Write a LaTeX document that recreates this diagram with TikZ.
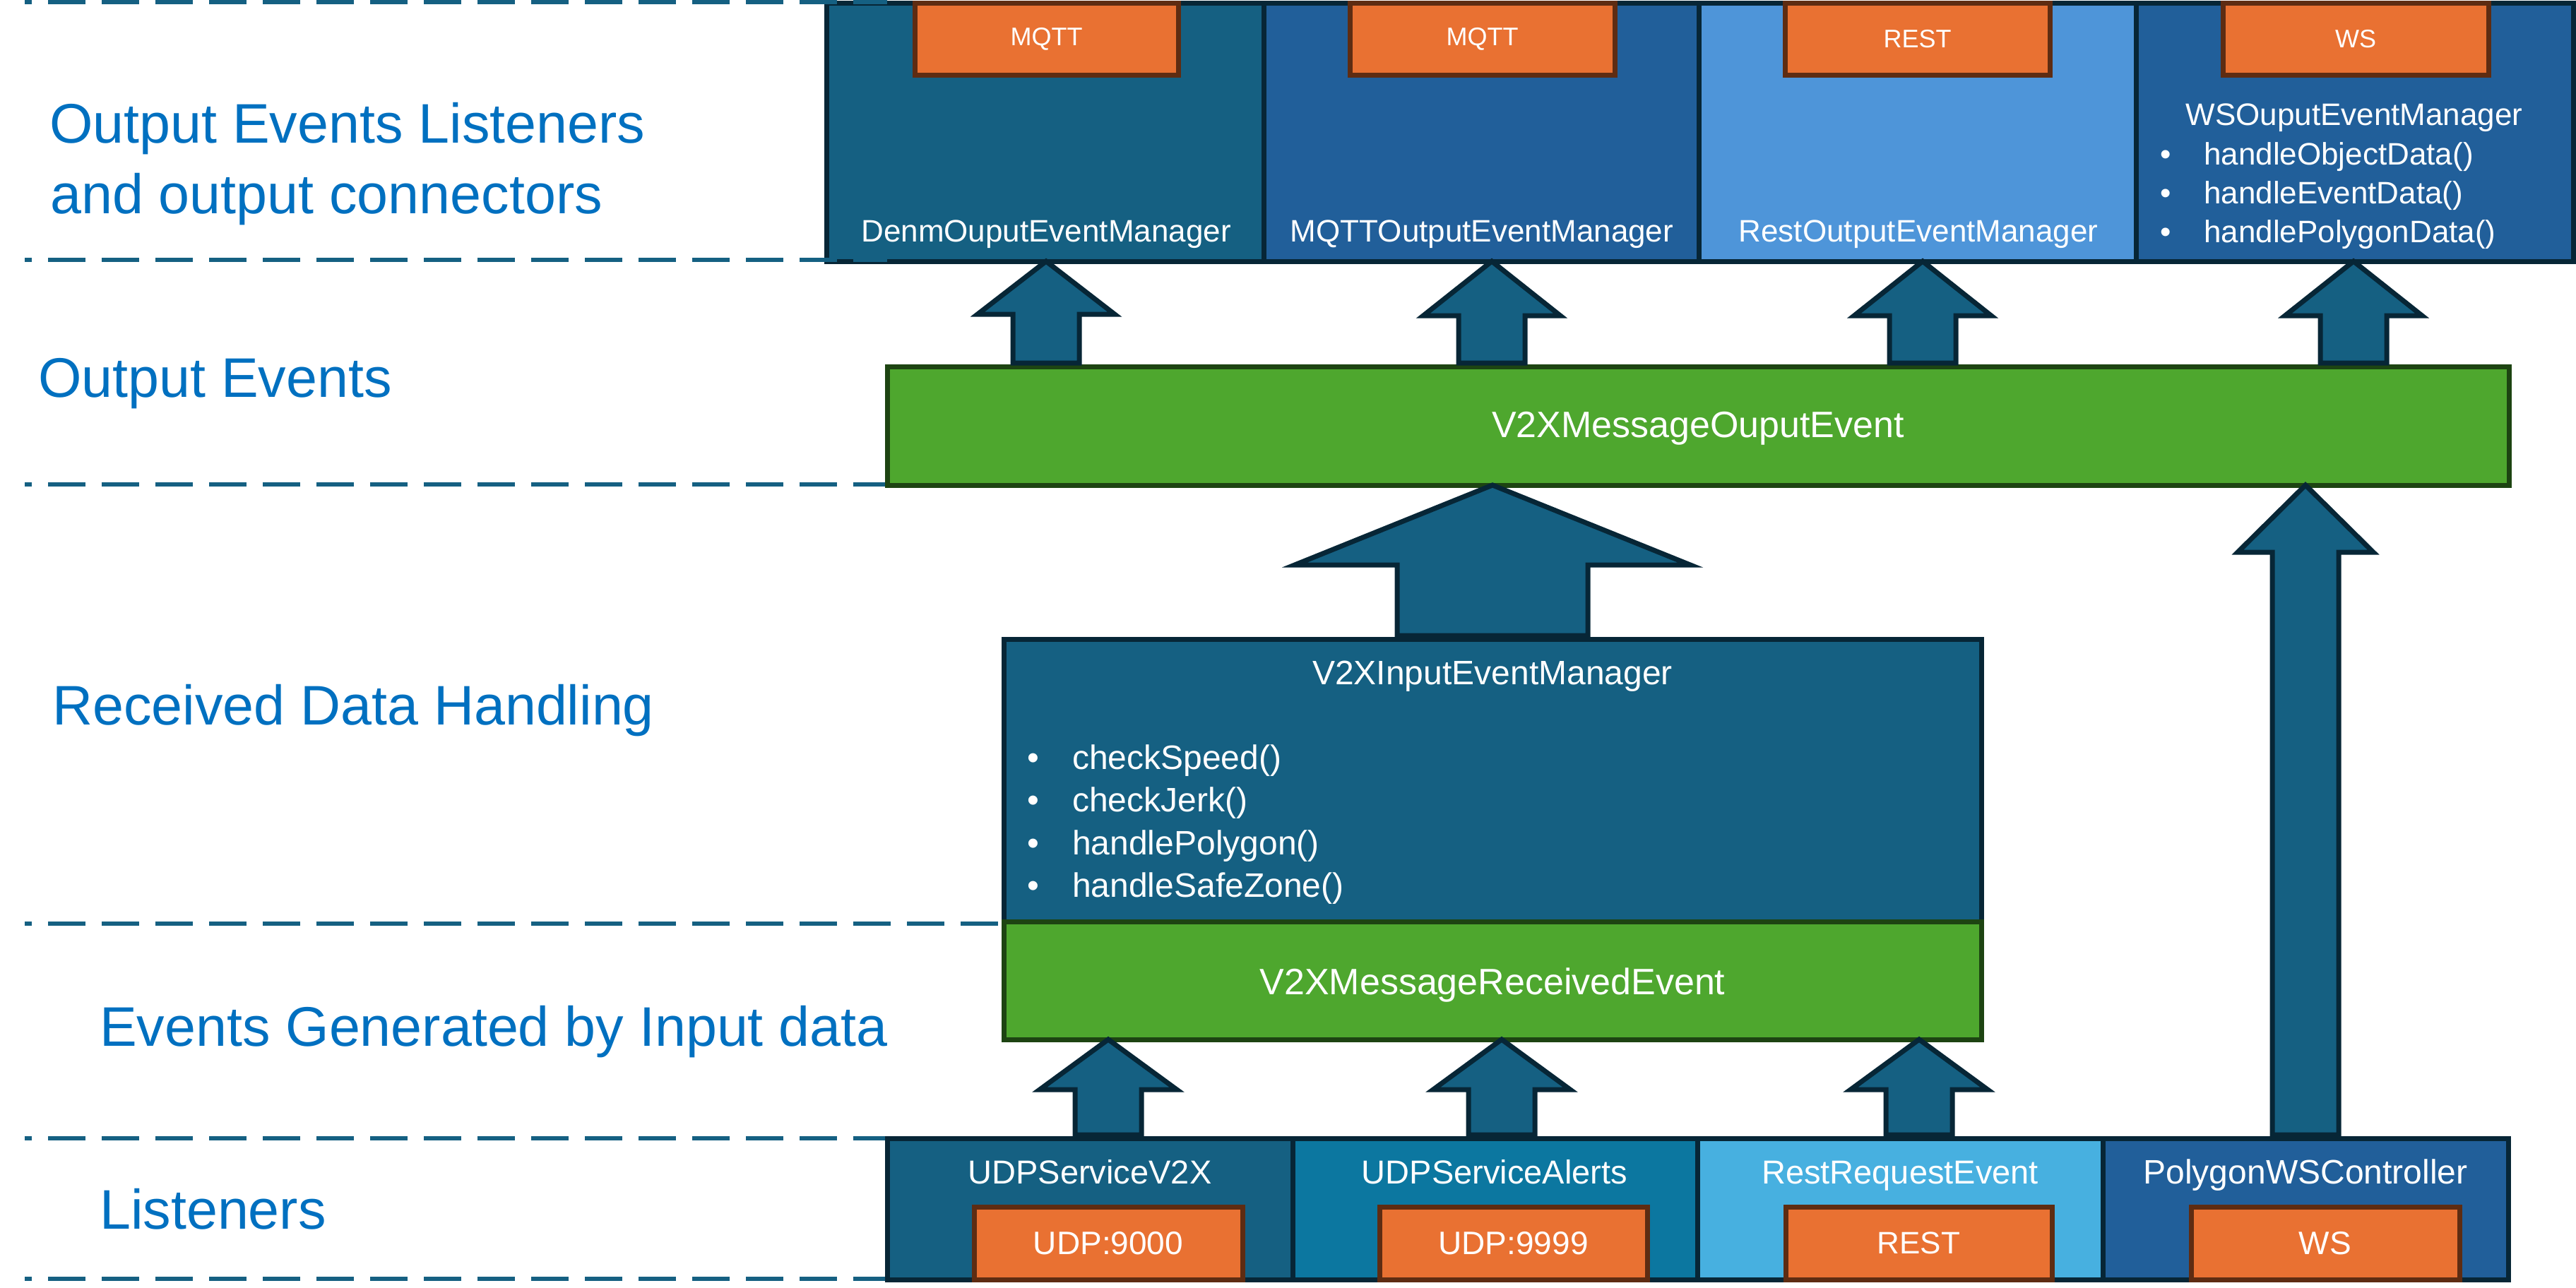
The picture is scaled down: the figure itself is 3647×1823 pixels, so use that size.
\documentclass[tikz,border=0pt]{standalone}
\usepackage{fontspec}
\setmainfont{Liberation Sans}
\usetikzlibrary{calc}
\definecolor{cTeal}{HTML}{156082}
\definecolor{cBlue}{HTML}{215F9A}
\definecolor{cLtBlue}{HTML}{4E95D9}
\definecolor{cSky}{HTML}{47B0E0}
\definecolor{cMid}{HTML}{0C77A0}
\definecolor{cNavy}{HTML}{072636}
\definecolor{cOrange}{HTML}{E97132}
\definecolor{cBrown}{HTML}{5E2C12}
\definecolor{cGreen}{HTML}{4EA72E}
\definecolor{cDkGreen}{HTML}{1D4412}
\definecolor{cLabel}{HTML}{0070C0}
\newcommand\myfs[1]{\fontsize{#1pt}{#1pt}\selectfont}
\newcommand\uparr[6]{%
  \draw[blockarr] let \p1=(#2), \p2=(#3) in
  (#1pt,\y1) -- (#1pt+#5pt,\y1-#4pt) -- (#1pt+#6pt,\y1-#4pt) -- (#1pt+#6pt,\y2+5pt)
  -- (#1pt-#6pt,\y2+5pt) -- (#1pt-#6pt,\y1-#4pt) -- (#1pt-#5pt,\y1-#4pt) -- cycle;}
\tikzset{
  box/.style={draw=cNavy, line width=7pt, inner sep=0pt, outer sep=0pt, anchor=north west},
  gbox/.style={box, draw=cDkGreen, fill=cGreen},
  tab/.style={draw=cBrown, fill=cOrange, line width=7pt, inner sep=0pt, outer sep=0pt,
              anchor=north west, text=white},
  wlbl/.style={text=white, inner sep=0pt, anchor=base},
  blt/.style={text=white, inner sep=0pt, anchor=base west},
  side/.style={text=cLabel, inner sep=0pt, anchor=base west, font=\myfs{79}},
  sepline/.style={draw=cTeal, line width=6.5pt, dash pattern=on 53pt off 23pt, dash phase=43pt},
  blockarr/.style={draw=cNavy, fill=cTeal, line width=7pt, line join=miter}
}
\begin{document}
\begin{tikzpicture}[x=1pt,y=1pt]
\useasboundingbox (0,0) rectangle (3647,-1823);
\fill[white] (0,0) rectangle (3647,-1823);

% separators (lower ones)
\draw[sepline] (35,-686) -- (1256,-686);
\draw[sepline] (35,-1308) -- (1421,-1308);
\draw[sepline] (35,-1612) -- (1256,-1612);
\draw[sepline] (35,-1811) -- (1256,-1811);

% side labels
\node[side] (l1) at (70,-202) {Output Events Listeners};
\node[side] (l2) at (71,-302) {and output connectors};
\node[side] (l3) at (54,-562) {Output Events};
\node[side] (l4) at (74,-1026) {Received Data Handling};
\node[side] (l5) at (141,-1481) {Events Generated by Input data};
\node[side] (l6) at (141,-1740) {Listeners};

% top row: output managers
\node[box, fill=cTeal,   minimum width=619pt, minimum height=366pt] (denm) at (1170,-4) {};
\node[box, fill=cBlue,   minimum width=616pt, minimum height=366pt] (mqtt) at (1789,-4) {};
\node[box, fill=cLtBlue, minimum width=619pt, minimum height=366pt] (rest) at (2405,-4) {};
\node[box, fill=cBlue,   minimum width=619pt, minimum height=366pt] (ws)   at (3024,-4) {};
\node[tab, minimum width=373pt, minimum height=102pt, font=\myfs{36}] (t1) at (1295,-4) {MQTT};
\node[tab, minimum width=375pt, minimum height=102pt, font=\myfs{36}] (t2) at (1911,-4) {MQTT};
\node[tab, minimum width=375pt, minimum height=102pt, font=\myfs{36}] (t3) at (2527,-4) {REST};
\node[tab, minimum width=376pt, minimum height=102pt, font=\myfs{36}] (t4) at (3147,-4) {WS};
\node[wlbl, font=\myfs{44}] (denmL) at (1481,-342) {DenmOuputEventManager};
\node[wlbl, font=\myfs{44}] (mqttL) at (2098,-342) {MQTTOutputEventManager};
\node[wlbl, font=\myfs{44}] (restL) at (2716,-342) {RestOutputEventManager};
\node[wlbl, font=\myfs{44}] (wsL)   at (3333,-177) {WSOuputEventManager};
\node[blt, font=\myfs{44}] (wsB1) at (3058,-233) {\makebox[62pt][l]{•}handleObjectData()};
\node[blt, font=\myfs{44}] (wsB2) at (3058,-288) {\makebox[62pt][l]{•}handleEventData()};
\node[blt, font=\myfs{44}] (wsB3) at (3058,-343) {\makebox[62pt][l]{•}handlePolygonData()};

% separators (upper ones, drawn over the first box edge)
\draw[sepline] (35,-3) -- (1256,-3);
\draw[sepline] (35,-368) -- (1256,-368);

% output event
\node[gbox, minimum width=2296pt, minimum height=168pt] (gout) at (1256,-519) {};
\node[wlbl, font=\myfs{52}] (goutL) at (2404,-619) {V2XMessageOuputEvent};

% input manager
\node[box, fill=cTeal, minimum width=1384pt, minimum height=400pt] (input) at (1421,-905) {};
\node[wlbl, font=\myfs{48}] (inputL) at (2113,-969) {V2XInputEventManager};
\node[blt, font=\myfs{48}] (inB1) at (1454,-1089) {\makebox[64pt][l]{•}checkSpeed()};
\node[blt, font=\myfs{48}] (inB2) at (1454,-1149) {\makebox[64pt][l]{•}checkJerk()};
\node[blt, font=\myfs{48}] (inB3) at (1454,-1210) {\makebox[64pt][l]{•}handlePolygon()};
\node[blt, font=\myfs{48}] (inB4) at (1454,-1270) {\makebox[64pt][l]{•}handleSafeZone()};

% received event
\node[gbox, minimum width=1384pt, minimum height=167pt] (recv) at (1421,-1305) {};
\node[wlbl, font=\myfs{52}] (recvL) at (2113,-1408) {V2XMessageReceivedEvent};

% listeners
\node[box, fill=cTeal, minimum width=574pt, minimum height=200pt] (udp1) at (1256,-1612) {};
\node[box, fill=cMid,  minimum width=573pt, minimum height=200pt] (udp2) at (1830,-1612) {};
\node[box, fill=cSky,  minimum width=574pt, minimum height=200pt] (rreq) at (2403,-1612) {};
\node[box, fill=cBlue, minimum width=574pt, minimum height=200pt] (poly) at (2977,-1612) {};
\node[tab, minimum width=380pt, minimum height=103pt, font=\myfs{46}] (b1) at (1379,-1709) {UDP:9000};
\node[tab, minimum width=379pt, minimum height=103pt, font=\myfs{46}] (b2) at (1953,-1709) {UDP:9999};
\node[tab, minimum width=377pt, minimum height=103pt, font=\myfs{44}] (b3) at (2528,-1709) {REST};
\node[tab, minimum width=380pt, minimum height=103pt, font=\myfs{46}] (b4) at (3102,-1709) {WS};
\node[wlbl, font=\myfs{47}] (udp1L) at (1543,-1676) {UDPServiceV2X};
\node[wlbl, font=\myfs{47}] (udp2L) at (2116,-1676) {UDPServiceAlerts};
\node[wlbl, font=\myfs{47}] (rreqL) at (2690,-1676) {RestRequestEvent};
\node[wlbl, font=\myfs{48}] (polyL) at (3264,-1676) {PolygonWSController};

% block arrows
\uparr{1481}{denm.south}{gout.north}{75}{97}{47}
\uparr{2112}{mqtt.south}{gout.north}{77}{97}{47}
\uparr{2722}{rest.south}{gout.north}{77}{97}{47}
\uparr{3332}{ws.south}{gout.north}{77}{97}{47}
\uparr{2113}{gout.south}{input.north}{113}{280}{135}
\uparr{3264}{gout.south}{poly.north}{95}{96}{47}
\uparr{1569}{recv.south}{udp1.north}{71}{97}{47}
\uparr{2126}{recv.south}{udp2.north}{71}{97}{47}
\uparr{2717}{recv.south}{rreq.north}{71}{97}{47}
\end{tikzpicture}
\end{document}
